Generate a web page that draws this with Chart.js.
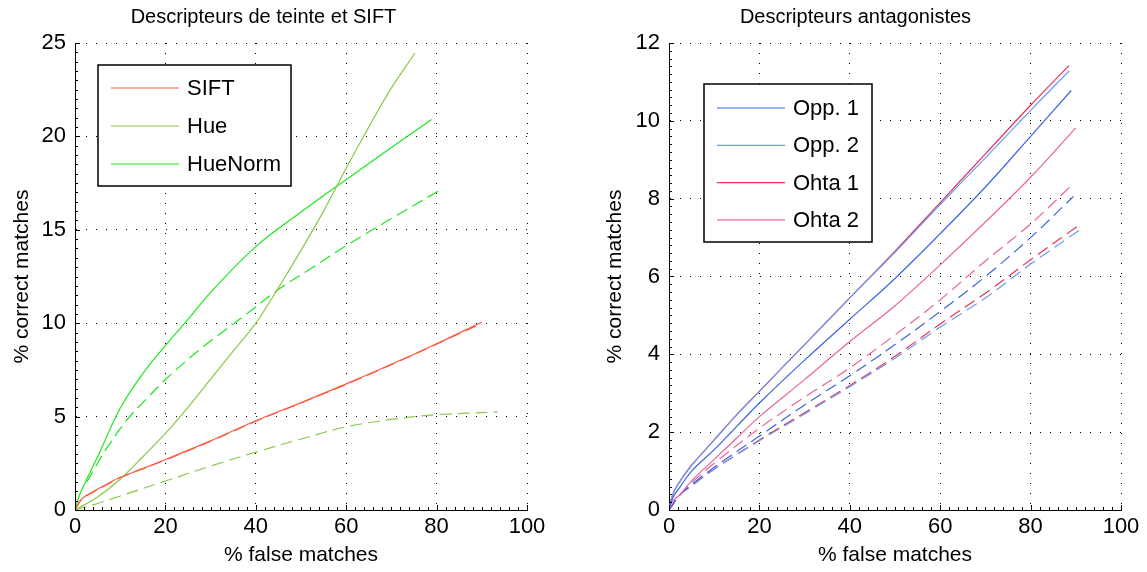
<!DOCTYPE html>
<html>
<head>
<meta charset="utf-8">
<script src="https://cdn.jsdelivr.net/npm/chart.js@4.4.1/dist/chart.umd.min.js"></script>
<style>
  html, body { margin: 0; padding: 0; background: #fff; }
  #wrap { position: relative; width: 1147px; height: 572px; }
  .pane { position: absolute; top: 0; height: 572px; }
</style>
</head>
<body>
<div id="wrap">
  <div class="pane" style="left:0;width:590px"><canvas id="left" width="590" height="572"></canvas></div>
  <div class="pane" style="left:590px;width:557px"><canvas id="right" width="557" height="572"></canvas></div>
</div>
<script>
// left panel: hue descriptors vs SIFT
const siftX = [0, 1, 2, 4, 7, 10, 15, 20, 30, 40, 50, 60, 70, 80, 90]
const siftY = [0, 0.45, 0.7, 0.98, 1.38, 1.75, 2.22, 2.7, 3.7, 4.78, 5.75, 6.75, 7.8, 8.9, 10.05]
const siftDashY = [0, 0.42, 0.67, 0.95, 1.35, 1.73, 2.2, 2.68, 3.68, 4.75, 5.73, 6.72, 7.78, 8.88, 10.0]

const hueX = [0, 5, 10, 15, 20, 25, 30, 35, 40, 45, 50, 55, 60, 65, 70, 75.2]
const hueY = [0, 0.7, 1.65, 2.85, 4.1, 5.5, 7.0, 8.5, 10.0, 11.9, 13.9, 16.0, 18.3, 20.5, 22.6, 24.45]
const hueDashX = [0, 5, 10, 20, 30, 40, 50, 60, 70, 80, 93.5]
const hueDashY = [0, 0.35, 0.75, 1.55, 2.35, 3.1, 3.8, 4.45, 4.85, 5.1, 5.25]

const hueNormX = [0, 1, 2.7, 5, 10, 15, 20, 25, 30, 40, 50, 58, 70, 78.9]
const hueNormY = [0, 0.8, 1.7, 2.85, 5.45, 7.3, 8.8, 10.2, 11.65, 14.1, 15.95, 17.35, 19.4, 20.9]
const hueNormDashX = [2.6, 5, 7, 11.4, 16.2, 20.3, 24.7, 28.4, 33.6, 38, 45, 52, 60, 70, 80.8]
const hueNormDashY = [1.5, 2.5, 3.3, 4.8, 6.05, 7.05, 8.0, 8.75, 9.7, 10.5, 11.8, 12.9, 14.15, 15.6, 17.13]

// right panel: opponent descriptors
const oppX = [0, 1, 2.5, 5, 10, 15, 20, 30, 40, 50, 60, 70, 80]
const opp1Y = [0.05, 0.35, 0.6, 1.0, 1.55, 2.15, 2.75, 3.85, 4.9, 5.95, 7.1, 8.3, 9.6]
const opp1End = [89, 10.78]
const opp2Y = [0.05, 0.45, 0.75, 1.15, 1.8, 2.45, 3.05, 4.25, 5.45, 6.62, 7.85, 9.05, 10.27]
const opp2End = [88.5, 11.28]
const ohta1Y = [0.05, 0.45, 0.75, 1.15, 1.8, 2.45, 3.05, 4.25, 5.45, 6.65, 7.9, 9.15, 10.4]
const ohta1End = [88.5, 11.42]
const ohta2Y = [0.05, 0.25, 0.4, 0.75, 1.3, 1.85, 2.4, 3.35, 4.33, 5.25, 6.3, 7.4, 8.55]
const ohta2End = [90, 9.82]

const dashX = [0, 2.5, 5, 10, 20, 30, 40, 50, 60, 70, 80]
const opp1DashY = [0, 0.4, 0.65, 1.1, 1.9, 2.7, 3.45, 4.25, 5.1, 6.0, 7.0]
const opp1DashEnd = [89.5, 8.06]
const opp2DashY = [0, 0.4, 0.62, 1.05, 1.78, 2.47, 3.17, 3.9, 4.7, 5.45, 6.32]
const opp2DashEnd = [90.7, 7.18]
const ohta1DashY = [0, 0.4, 0.62, 1.05, 1.8, 2.5, 3.2, 3.95, 4.78, 5.57, 6.43]
const ohta1DashEnd = [90.5, 7.3]
const ohta2DashY = [0, 0.4, 0.7, 1.2, 2.1, 2.9, 3.65, 4.5, 5.4, 6.4, 7.35]
const ohta2DashEnd = [89.4, 8.38]

const xTicks = [0, 20, 40, 60, 80, 100]

const FONT = "'Liberation Sans', Arial, sans-serif"
const toPts = (xs, ys, end) => {
  const pts = xs.map((x, i) => ({ x, y: ys[i] }))
  if (end) pts.push({ x: end[0], y: end[1] })
  return pts
}

const line = (label, pts, color, dashed) => ({
  label,
  data: pts,
  borderColor: color,
  backgroundColor: color,
  borderWidth: 1.2,
  borderDash: dashed ? [12, 6] : [],
  pointRadius: 0,
  tension: 0.35,
  fill: false,
  inLegend: !dashed
})

// inward major + minor ticks, MATLAB style
const tickMarks = {
  id: "tickMarks",
  afterDraw(chart, args, opts) {
    const { ctx, scales: { x, y } } = chart
    ctx.save()
    ctx.strokeStyle = "#000"
    ctx.lineWidth = 1
    ctx.beginPath()
    for (let v = x.min; v <= x.max + 1e-9; v += opts.xMinor) {
      const px = Math.round(x.getPixelForValue(v)) + 0.5
      const major = Math.abs(v / opts.xMajor - Math.round(v / opts.xMajor)) < 1e-6
      ctx.moveTo(px, y.bottom)
      ctx.lineTo(px, y.bottom - (major ? 5 : 3))
    }
    for (let v = y.min; v <= y.max + 1e-9; v += opts.yMinor) {
      const py = Math.round(y.getPixelForValue(v)) + 0.5
      const major = Math.abs(v / opts.yMajor - Math.round(v / opts.yMajor)) < 1e-6
      ctx.moveTo(x.left, py)
      ctx.lineTo(x.left + (major ? 5 : 3), py)
    }
    ctx.stroke()
    ctx.restore()
  }
}

// boxed legend drawn inside the plot area
const boxLegend = {
  id: "boxLegend",
  afterDraw(chart, args, opts) {
    const { ctx } = chart
    const items = chart.data.datasets.filter(d => d.inLegend)
    ctx.save()
    ctx.fillStyle = "#fff"
    ctx.fillRect(opts.x, opts.y, opts.w, opts.h)
    ctx.strokeStyle = "#000"
    ctx.lineWidth = 1.5
    ctx.strokeRect(opts.x, opts.y, opts.w, opts.h)
    ctx.font = "22px " + FONT
    ctx.textBaseline = "middle"
    items.forEach((d, i) => {
      const cy = opts.y + opts.first + i * opts.row
      ctx.strokeStyle = d.borderColor
      ctx.lineWidth = 1.2
      ctx.beginPath()
      ctx.moveTo(opts.x + 13, cy)
      ctx.lineTo(opts.x + 81, cy)
      ctx.stroke()
      ctx.fillStyle = "#000"
      ctx.fillText(d.label, opts.x + 89, cy + 1)
    })
    ctx.restore()
  }
}

function makeChart(id, datasets, cfg) {
  return new Chart(document.getElementById(id), {
    type: "line",
    data: { datasets },
    plugins: [tickMarks, boxLegend],
    options: {
      responsive: false,
      animation: false,
      layout: { padding: { left: 0, right: cfg.padRight, top: 0, bottom: 0 } },
      plugins: {
        legend: { display: false },
        tooltip: { enabled: false },
        title: {
          display: true,
          text: cfg.title,
          color: "#000",
          font: { family: FONT, size: 20, weight: "normal", lineHeight: 1.2 },
          padding: { top: 5, bottom: 14 }
        },
        tickMarks: { xMajor: 20, xMinor: 2, yMajor: cfg.yStep, yMinor: cfg.yStep / 10 },
        boxLegend: cfg.legend
      },
      scales: {
        x: {
          type: "linear",
          min: 0,
          max: 100,
          afterBuildTicks: s => { s.ticks = xTicks.map(v => ({ value: v })) },
          afterFit: s => { s.height = 62 },
          grid: { color: "#000", lineWidth: 1, drawTicks: false },
          border: { color: "#000", width: 1, dash: [1, 9] },
          ticks: { color: "#000", padding: 4, font: { family: FONT, size: 22 } },
          title: {
            display: true,
            text: "% false matches",
            color: "#000",
            font: { family: FONT, size: 21, lineHeight: 1.2 },
            padding: { top: 0, bottom: 4 }
          }
        },
        y: {
          type: "linear",
          min: 0,
          max: cfg.yMax,
          ticks: { stepSize: cfg.yStep, color: "#000", padding: 9, font: { family: FONT, size: 22 } },
          afterFit: s => { s.width = cfg.yWidth },
          grid: { color: "#000", lineWidth: 1, drawTicks: false },
          border: { color: "#000", width: 1, dash: [1, 9] },
          title: {
            display: true,
            text: "% correct matches",
            color: "#000",
            font: { family: FONT, size: 21, lineHeight: 1.2 },
            padding: { top: cfg.yTitlePad, bottom: 0 }
          }
        }
      }
    }
  })
}

makeChart("left", [
  line("SIFT", toPts(siftX, siftY), "#ff5a40", false),
  line("Hue", toPts(hueX, hueY), "#8ac84a", false),
  line("HueNorm", toPts(hueNormX, hueNormY), "#1ee81e", false),
  line("SIFT", toPts(siftX, siftDashY), "#ff5a40", true),
  line("Hue", toPts(hueDashX, hueDashY), "#8ac84a", true),
  line("HueNorm", toPts(hueNormDashX, hueNormDashY), "#1ee81e", true)
], {
  title: "Descripteurs de teinte et SIFT",
  yMax: 25, yStep: 5, yWidth: 75, padRight: 63, yTitlePad: 10,
  legend: { x: 98, y: 65, w: 193, h: 121, first: 23, row: 38 }
})

makeChart("right", [
  line("Opp. 1", toPts(oppX, opp1Y, opp1End), "#3c64e0", false),
  line("Opp. 2", toPts(oppX, opp2Y, opp2End), "#6a9ef0", false),
  line("Ohta 1", toPts(oppX, ohta1Y, ohta1End), "#e6325a", false),
  line("Ohta 2", toPts(oppX, ohta2Y, ohta2End), "#e8649a", false),
  line("Opp. 1", toPts(dashX, opp1DashY, opp1DashEnd), "#3c64e0", true),
  line("Opp. 2", toPts(dashX, opp2DashY, opp2DashEnd), "#6a9ef0", true),
  line("Ohta 1", toPts(dashX, ohta1DashY, ohta1DashEnd), "#e6325a", true),
  line("Ohta 2", toPts(dashX, ohta2DashY, ohta2DashEnd), "#e8649a", true)
], {
  title: "Descripteurs antagonistes",
  yMax: 12, yStep: 2, yWidth: 79, padRight: 26, yTitlePad: 13,
  legend: { x: 114, y: 84, w: 168, h: 158, first: 24, row: 37.3 }
})
</script>
</body>
</html>
